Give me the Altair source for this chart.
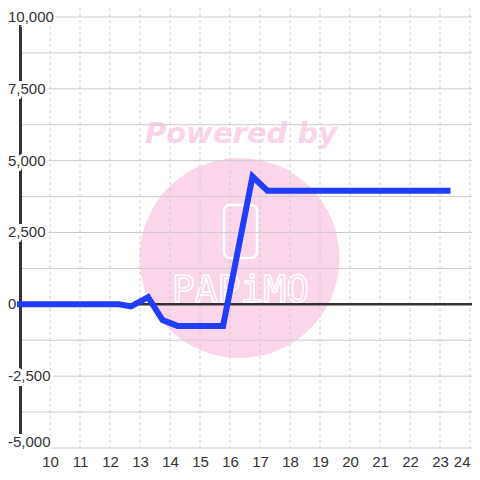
import altair as alt
import pandas as pd

# data
x_vals = [9.0, 12.3, 12.7, 13.27, 13.75, 14.25, 15.77, 16.75, 17.25, 23.25]
y_vals = [0, 0, -70, 250, -550, -750, -750, 4450, 3950, 3950]
y_label_vals = [-5000, -2500, 0, 2500, 5000, 7500, 10000]
y_label_text = ["-5,000", "-2,500", "0", "2,500", "5,000", "7,500", "10,000"]
y_grid_vals = [-5000, -3750, -2500, -1250, 0, 1250, 2500, 3750, 5000, 6250, 7500, 8750, 10000]
x_tick_vals = list(range(10, 25))
watermark_top = ["Powered by"]
watermark_logo = ["PAPiMO"]

W, H = 452, 440
xs = alt.Scale(domain=[9, 9 + W / 30.0], nice=False, zero=False)
ys = alt.Scale(domain=[-5000, 10313], nice=False, zero=False)

line_df = pd.DataFrame({"x": x_vals, "y": y_vals})
ylab_df = pd.DataFrame({"yl": y_label_vals, "txt": y_label_text})
ygrid_df = pd.DataFrame({"yg": y_grid_vals})
xgrid_df = pd.DataFrame({"x": x_tick_vals})
one = pd.DataFrame({"y": [0]})
ymin = min(y_label_vals)

x_axis = alt.Axis(values=x_tick_vals, grid=False, ticks=False, domain=False,
                  labelFontSize=15, labelColor="#333333", labelFont="Liberation Sans",
                  labelPadding=6, title=None, labelFlush=5, labelOverlap=False)

circle = alt.Chart(one).mark_circle(size=40000, color="#fbd5ea", opacity=1).encode(
    x=alt.value(219.5), y=alt.value(250))
powered = alt.Chart(pd.DataFrame({"t": watermark_top})).mark_text(
    font="DejaVu Sans", fontSize=29, fontWeight="bold", fontStyle="italic",
    color="#fbd3ea", baseline="middle", align="center").encode(
    x=alt.value(221), y=alt.value(126), text="t:N")
logo_box = alt.Chart(one).mark_rect(fillOpacity=0, stroke="white", strokeWidth=2.5,
                                     cornerRadius=6).encode(
    x=alt.value(204), x2=alt.value(237), y=alt.value(197), y2=alt.value(250))
logo_text = alt.Chart(pd.DataFrame({"t": watermark_logo})).mark_text(
    font="DejaVu Sans Mono", fontSize=38, fill="#fbd5ea", stroke="white",
    strokeWidth=1.5, baseline="middle", align="center").encode(
    x=alt.value(220.5), y=alt.value(283), text="t:N")

vgrid = alt.Chart(xgrid_df).mark_rule(color="#cccccc", strokeWidth=1, strokeDash=[3, 3]).encode(
    x=alt.X("x:Q", scale=xs, axis=x_axis), y=alt.value(0), y2=alt.value(H))
hgrid = alt.Chart(ygrid_df).mark_rule(color="#cccccc", strokeWidth=1).encode(
    y=alt.Y("yg:Q", scale=ys, axis=None), x=alt.value(0), x2=alt.value(W))
zero = alt.Chart(one).mark_rule(color="#333333", strokeWidth=2.5).encode(
    y=alt.Y("y:Q", scale=ys, axis=None), x=alt.value(0), x2=alt.value(W))
yaxis_line = alt.Chart(one).mark_rule(color="#333333", strokeWidth=3).encode(
    x=alt.value(0.5), y=alt.value(9), y2=alt.value(H))


def ylabels(fill, stroke_w, baseline, dy, cond):
    kw = dict(font="Liberation Sans", fontSize=15, align="left", baseline=baseline,
              fill=fill, dy=dy)
    if stroke_w:
        kw.update(stroke="white", strokeWidth=stroke_w)
    return alt.Chart(ylab_df).transform_filter(cond).mark_text(**kw).encode(
        x=alt.value(-12), y=alt.Y("yl:Q", scale=ys, axis=None), text="txt:N")


mid_cond = alt.datum.yl > ymin
bot_cond = alt.datum.yl == ymin
halo_mid = ylabels("white", 6, "middle", 0, mid_cond)
halo_bot = ylabels("white", 6, "alphabetic", -1, bot_cond)
lab_mid = ylabels("#333333", 0, "middle", 0, mid_cond)
lab_bot = ylabels("#333333", 0, "alphabetic", -1, bot_cond)

line = alt.Chart(line_df).mark_line(color="#1f3cff", strokeWidth=6, strokeCap="square",
                                    strokeJoin="miter").encode(
    x=alt.X("x:Q", scale=xs, axis=x_axis),
    y=alt.Y("y:Q", scale=ys, axis=None))

chart = alt.layer(
    circle, powered, logo_box, logo_text, vgrid, hgrid, zero, yaxis_line,
    halo_mid, halo_bot, lab_mid, lab_bot, line
).properties(
    width=W, height=H, background="white",
    autosize=alt.AutoSizeParams(type="none"),
    padding={"left": 12, "top": 0, "right": 0, "bottom": 24},
).configure_view(stroke=None).configure_axis(grid=False)

chart.save("out.html", embed_options={"renderer": "svg", "actions": False})
